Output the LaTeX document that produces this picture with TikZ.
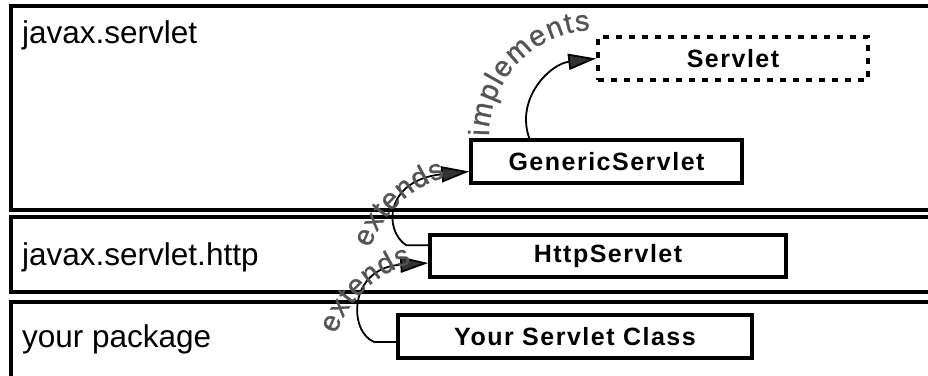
\documentclass[tikz,border=0pt]{standalone}
\usepackage{fontspec}
\setmainfont{Liberation Sans}
\newfontfamily\clsfont{Liberation Sans}[LetterSpace=6]
\newfontfamily\arcfamily{Liberation Sans}[FakeBold=1]
\usetikzlibrary{arrows.meta,calc}
\definecolor{labelgray}{RGB}{84,84,84}
\definecolor{tipgray}{RGB}{50,50,50}
\newcommand\curvefont{\arcfamily\fontsize{29}{33}\selectfont}

% \arcword{center}{radius}{start angle}{tracking}{c,h,a,r,s}
% sets the characters one by one, clockwise along a circular baseline
\newcommand\arcword[5]{%
  \begingroup\curvefont
  \gdef\arcsofar{0}%
  \foreach \ch in {#5} {%
    \pgfmathwidth{"\ch"}\let\chw\pgfmathresult
    \pgfmathsetmacro\ang{#3 - deg((\arcsofar + \chw/2)/(#2))}%
    \node[curvechar, rotate=\ang-90]
      at ($(#1)+({#2*cos(\ang)},{-#2*sin(\ang)})$) {\curvefont\ch};
    \pgfmathsetmacro\nxt{\arcsofar + \chw + #4}%
    \xdef\arcsofar{\nxt}%
  }%
  \endgroup
}

\begin{document}
\begin{tikzpicture}[x=1pt,y=-1pt,
  pkg/.style={line width=3.6pt},
  cls/.style={draw, line width=3.5pt, inner sep=0pt,
    font=\clsfont\bfseries\fontsize{25}{30}\selectfont},
  iface/.style={cls, dash pattern=on 6pt off 7pt},
  pkglabel/.style={anchor=base west, inner sep=0pt,
    font=\fontsize{31.5}{36}\selectfont},
  conn/.style={line width=1.8pt,
    -{Triangle[length=28pt,width=16pt,fill=tipgray]}},
  curvechar/.style={anchor=base, inner sep=0pt, text=labelgray, font=\curvefont}
]
\useasboundingbox (0,0) rectangle (928,375);

% package frames (open on the right)
\draw[pkg] (940,6) -- (11,6) -- (11,210) -- (940,210);
\draw[pkg] (940,217) -- (11,217) -- (11,292) -- (940,292);
\draw[pkg] (940,302) -- (11,302) -- (11,390);

\node[pkglabel] (p1) at (22,43) {javax.servlet};
\node[pkglabel] (p2) at (22,265) {javax.servlet.http};
\node[pkglabel] (p3) at (22,347) {your package};

% classes and interface
\node[iface, minimum width=270pt, minimum height=43pt] (servlet) at (733,58.5) {Servlet};
\node[cls, minimum width=271pt, minimum height=43pt] (gen) at (606.5,161.5) {GenericServlet};
\node[cls, minimum width=356pt, minimum height=42pt] (http) at (608,256) {HttpServlet};
\node[cls, minimum width=354pt, minimum height=43pt] (your) at (575,336.5) {Your Servlet Class};

% relations
\draw[conn] ($(gen.north west)+(60,0)$) .. controls +(-14,-40) and (550,64) .. (servlet.west);
\draw[conn] ($(http.north west)+(0,12)$) -- +(-22,0)
  .. controls +(-23,-15) and (385,180) .. ($(gen.west)+(0,10)$);
\draw[conn] ($(your.west)+(0,5.5)$) -- +(-22,0)
  .. controls +(-26,-10) and (348,268) .. ($(http.west)+(0,7)$);

% relation labels, each on a circular baseline
\coordinate (implc) at (595,136);
\coordinate (ext1c) at (478,287.3);
\coordinate (ext2c) at (444,373.3);
\arcword{implc}{106}{180}{1.5}{i,m,p,l,e,m,e,n,t,s}
\arcword{ext1c}{115}{160}{1}{e,x,t,e,n,d,s}
\arcword{ext2c}{115}{160}{1}{e,x,t,e,n,d,s}
\end{tikzpicture}
\end{document}
